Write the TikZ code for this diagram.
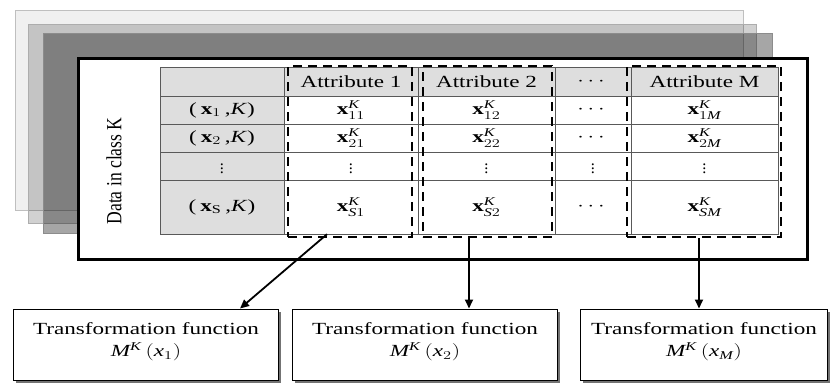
\documentclass[tikz,border=0pt]{standalone}
\usepackage{fontspec}
\setmainfont{Liberation Serif}
\usepackage{amsmath}
\usepackage{graphicx}
\usetikzlibrary{arrows.meta,shadows}

% text is set slightly wide throughout
\newcommand\wide[1]{\scalebox{1.36}[1]{#1}}
\newcommand\xb{\textbf{x}}
\newcommand\vd{\scalebox{0.95}{$\vdots$}}

\begin{document}
\begin{tikzpicture}[x=1pt,y=-1pt,
  tcell/.style={draw=black!65, line width=0.7pt, inner sep=0pt,
    font=\fontsize{17}{20}\selectfont},
  hcell/.style={tcell, fill=black!13},
  dcell/.style={tcell, fill=white},
  colbox/.style={draw=black, line width=2.4pt, dash pattern=on 9pt off 6pt,
    inner sep=0pt},
  tfbox/.style={draw=black, line width=1pt, fill=white, inner sep=0pt,
    drop shadow={shadow xshift=2.5pt, shadow yshift=-2.5pt,
      fill=black!55, opacity=1}},
  lbl/.style={inner sep=0pt, font=\fontsize{17}{20}\selectfont},
  link/.style={line width=1.8pt, -{Triangle[length=9pt,width=8pt]}}
]
\useasboundingbox (0,0) rectangle (836,383);

% stacked sheets behind the data frame
\draw[draw=black!25, line width=0.8pt, fill=black!6] (15,10) rectangle (743,210);
\draw[draw=black!32, line width=0.8pt, fill=black, fill opacity=0.18] (28,24) rectangle (756,223);
\draw[draw=black!45, line width=0.8pt, fill=black, fill opacity=0.35] (43,33) rectangle (772,233);

% data frame
\node[draw, line width=3pt, fill=white, minimum width=729pt, minimum height=201pt,
  inner sep=0pt] (frame) at (442.5,158.5) {};
\node[lbl, rotate=90] (cls) at (114,171)
  {\resizebox{107pt}{15pt}{\fontsize{17}{20}\selectfont Data in class K}};

% table: columns 160|284|418|555|631|778, rows 67|96|124|152|180|234
% header row
\node[hcell, minimum width=124pt, minimum height=29pt] (h0) at (222,81.5) {};
\node[hcell, minimum width=134pt, minimum height=29pt] (h1) at (351,81.5) {\wide{Attribute 1}};
\node[hcell, minimum width=137pt, minimum height=29pt] (h2) at (486.5,81.5) {\wide{Attribute 2}};
\node[hcell, minimum width=76pt,  minimum height=29pt] (h3) at (593,81.5) {\wide{$\cdots$}};
\node[hcell, minimum width=147pt, minimum height=29pt] (h4) at (704.5,81.5) {\wide{Attribute M}};
% row 1
\node[hcell, minimum width=124pt, minimum height=28pt] (r1c0) at (222,110) {\wide{(\,$\xb_{1}$\,,\textit{K})}};
\node[dcell, minimum width=134pt, minimum height=28pt] (r1c1) at (351,110) {\wide{$\xb^{\textit{K}}_{11}$}};
\node[dcell, minimum width=137pt, minimum height=28pt] (r1c2) at (486.5,110) {\wide{$\xb^{\textit{K}}_{12}$}};
\node[dcell, minimum width=76pt,  minimum height=28pt] (r1c3) at (593,110) {\wide{$\cdots$}};
\node[dcell, minimum width=147pt, minimum height=28pt] (r1c4) at (704.5,110) {\wide{$\xb^{\textit{K}}_{1\textit{M}}$}};
% row 2
\node[hcell, minimum width=124pt, minimum height=28pt] (r2c0) at (222,138) {\wide{(\,$\xb_{2}$\,,\textit{K})}};
\node[dcell, minimum width=134pt, minimum height=28pt] (r2c1) at (351,138) {\wide{$\xb^{\textit{K}}_{21}$}};
\node[dcell, minimum width=137pt, minimum height=28pt] (r2c2) at (486.5,138) {\wide{$\xb^{\textit{K}}_{22}$}};
\node[dcell, minimum width=76pt,  minimum height=28pt] (r2c3) at (593,138) {\wide{$\cdots$}};
\node[dcell, minimum width=147pt, minimum height=28pt] (r2c4) at (704.5,138) {\wide{$\xb^{\textit{K}}_{2\textit{M}}$}};
% row 3
\node[hcell, minimum width=124pt, minimum height=28pt] (r3c0) at (222,166) {\vd};
\node[dcell, minimum width=134pt, minimum height=28pt] (r3c1) at (351,166) {\vd};
\node[dcell, minimum width=137pt, minimum height=28pt] (r3c2) at (486.5,166) {\vd};
\node[dcell, minimum width=76pt,  minimum height=28pt] (r3c3) at (593,166) {\vd};
\node[dcell, minimum width=147pt, minimum height=28pt] (r3c4) at (704.5,166) {\vd};
% row S
\node[hcell, minimum width=124pt, minimum height=54pt] (r4c0) at (222,207) {\wide{(\,$\xb_{\text{S}}$\,,\textit{K})}};
\node[dcell, minimum width=134pt, minimum height=54pt] (r4c1) at (351,207) {\wide{$\xb^{\textit{K}}_{\textit{S}1}$}};
\node[dcell, minimum width=137pt, minimum height=54pt] (r4c2) at (486.5,207) {\wide{$\xb^{\textit{K}}_{\textit{S}2}$}};
\node[dcell, minimum width=76pt,  minimum height=54pt] (r4c3) at (593,207) {\wide{$\cdots$}};
\node[dcell, minimum width=147pt, minimum height=54pt] (r4c4) at (704.5,207) {\wide{$\xb^{\textit{K}}_{\textit{SM}}$}};

% dashed attribute columns
\node[colbox, minimum width=124pt, minimum height=171pt] (colA) at (350,151.5) {};
\node[colbox, minimum width=129pt, minimum height=171pt] (colB) at (487.5,151.5) {};
\node[colbox, minimum width=154pt, minimum height=171pt] (colM) at (704,151.5) {};

% transformation function boxes
\node[tfbox, minimum width=265pt, minimum height=71pt] (tf1) at (145.5,344.5) {};
\node[tfbox, minimum width=265pt, minimum height=71pt] (tf2) at (424.5,344.5) {};
\node[tfbox, minimum width=247pt, minimum height=71pt] (tf3) at (703.5,344.5) {};
\node[lbl] (tf1a) at (146,329) {\wide{Transformation function}};
\node[lbl] (tf1b) at (146,352) {\wide{$\textit{M}^{\textit{K}}\,(\textit{x}_{1})$}};
\node[lbl] (tf2a) at (425,329) {\wide{Transformation function}};
\node[lbl] (tf2b) at (425,352) {\wide{$\textit{M}^{\textit{K}}\,(\textit{x}_{2})$}};
\node[lbl] (tf3a) at (704,329) {\wide{Transformation function}};
\node[lbl] (tf3b) at (704,352) {\wide{$\textit{M}^{\textit{K}}\,(\textit{x}_{\textit{M}})$}};

% connectors
\coordinate (sA) at (327,0);
\coordinate (eA) at (240,0);
\coordinate (xB) at (469,0);
\coordinate (xM) at (699,0);
\draw[link] ([yshift=4pt]colA.south -| sA) -- (tf1.north -| eA);
\draw[link] (colB.south -| xB) -- (tf2.north -| xB);
\draw[link] (colM.south -| xM) -- (tf3.north -| xM);
\end{tikzpicture}
\end{document}
